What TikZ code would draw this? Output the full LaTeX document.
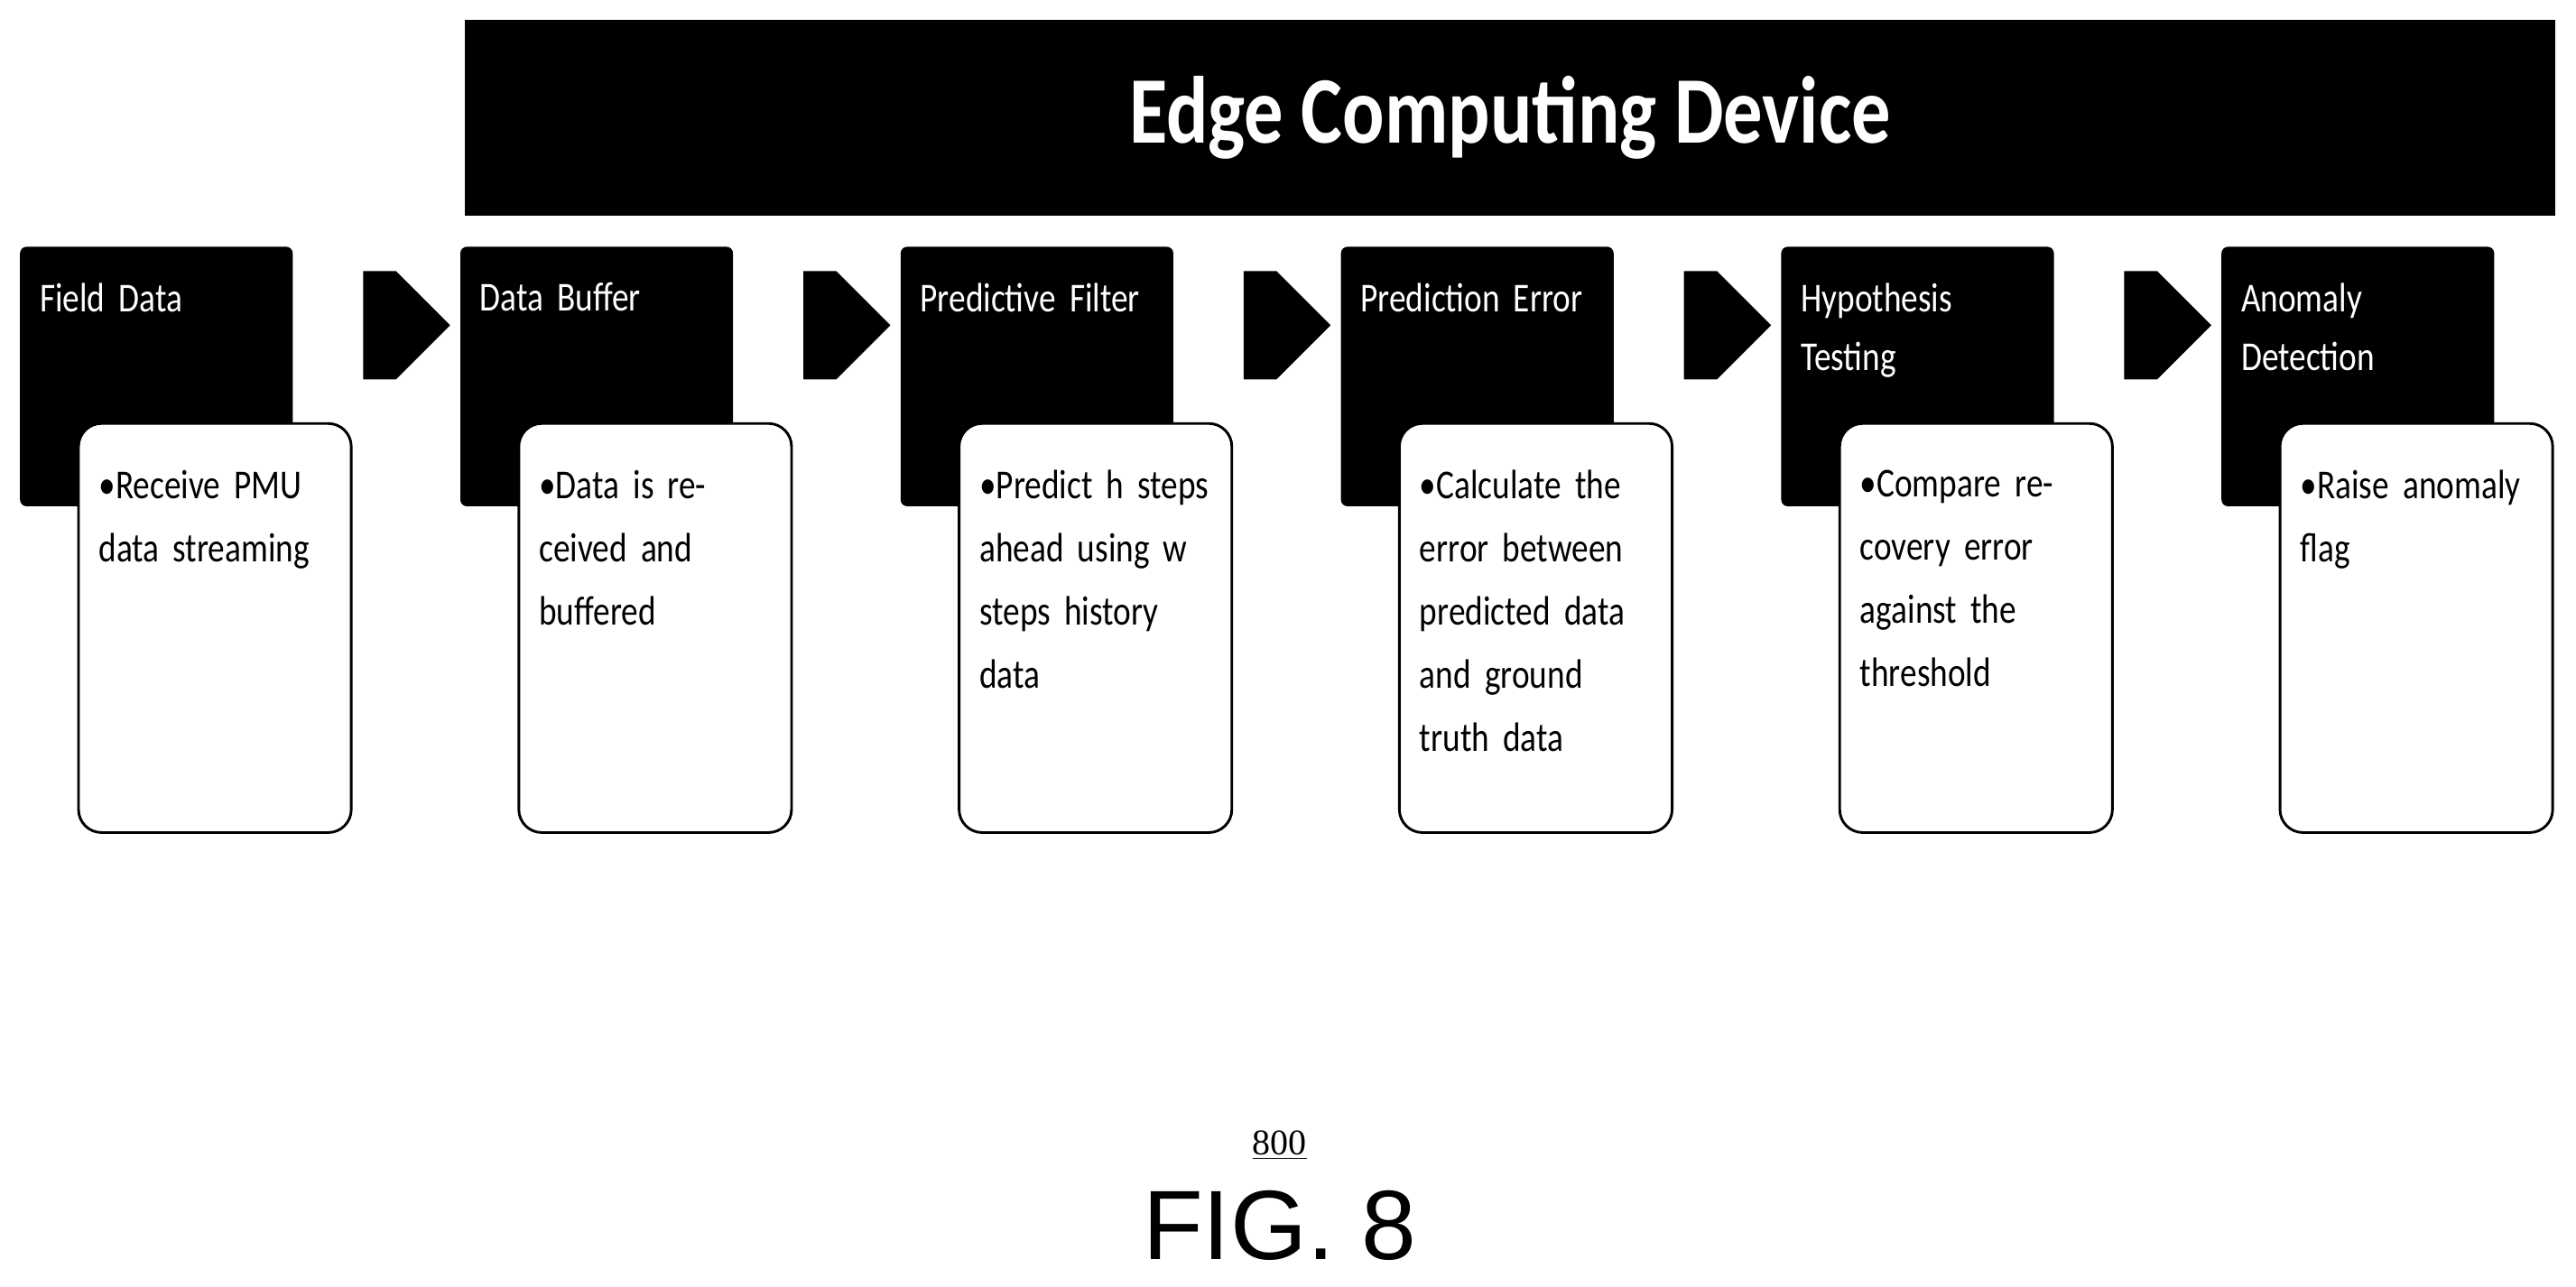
\documentclass[tikz,border=0pt]{standalone}
\usepackage{fontspec}
\setmainfont{Carlito}[FakeStretch=0.82]
\newfontfamily\arialf{Liberation Sans}
\newfontfamily\serf{Liberation Serif}
\usetikzlibrary{shapes.arrows}
\begin{document}
\begin{tikzpicture}[x=1pt,y=-1pt,
  hdr/.style={fill=black,rounded corners=4pt,minimum width=166pt,minimum height=158pt,anchor=north west},
  htxt/.style={text=white,anchor=north west,align=left,font=\fontsize{25}{36}\selectfont,inner sep=0pt,text width=140pt},
  body/.style={fill=white,draw=black,line width=1.6pt,rounded corners=14pt,minimum width=166pt,minimum height=249pt,anchor=north west},
  btxt/.style={anchor=north west,align=left,font=\fontsize{25}{38.5}\selectfont,inner sep=0pt,text width=142pt},
  arr/.style={single arrow,fill=black,minimum width=66pt,minimum height=53pt,single arrow head extend=0pt,inner sep=0pt,shape border rotate=0}]
\useasboundingbox (0,0) rectangle (1568,783);
\node[fill=black,minimum width=1272pt,minimum height=119pt,anchor=north west,inner sep=0pt] (title) at (283,12) {};
\node[text=white,font=\bfseries\fontsize{58}{60}\selectfont] (tt) at (title.center) {Edge Computing Device};
\foreach \i/\h/\b in {0/{Field Data}/{\textbullet Receive PMU data streaming},
  1/{Data Buffer}/{\textbullet Data is received and buffered},
  2/{Predictive Filter}/{\textbullet Predict h steps ahead using w steps history data},
  3/{Prediction Error}/{\textbullet Calculate the error between predicted data and ground truth data},
  4/{Hypothesis\\Testing}/{\textbullet Compare recovery error against the threshold},
  5/{Anomaly\\Detection}/{\textbullet Raise anomaly flag}}{
  \pgfmathsetmacro\xx{12+268*\i}
  \node[hdr] (h\i) at (\xx,150) {};
  \node[htxt] (ht\i) at (\xx+12,172) {\h};
  \node[body] (b\i) at (\xx+35,257) {};
  \node[btxt] (bt\i) at (\xx+48,286) {\b};
}
\foreach \i in {0,...,4}{
  \pgfmathsetmacro\ax{231+268*\i}
  \node[arr] (a\i) at (\ax,198) {};
}
\node[font=\serf\fontsize{22}{24}\selectfont] (num) at (779,697) {\underline{800}};
\node[font=\arialf\fontsize{60}{62}\selectfont] (fig) at (779,746) {FIG. 8};
\end{tikzpicture}
\end{document}
